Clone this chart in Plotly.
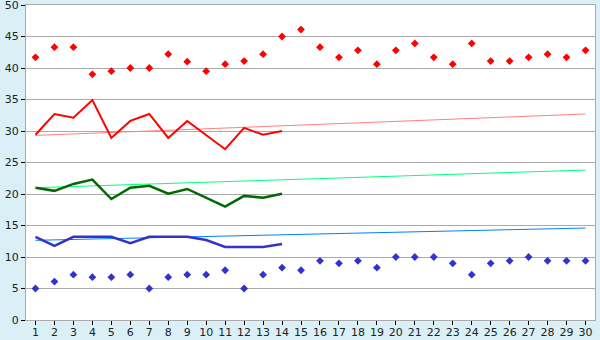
import plotly.graph_objects as go

days = list(range(1, 31))
line_days = list(range(1, 15))

red_points = [41.7, 43.3, 43.3, 39.0, 39.5, 40.0, 40.0, 42.2, 41.0, 39.5,
              40.6, 41.1, 42.2, 45.0, 46.1, 43.3, 41.7, 42.8, 40.6, 42.8,
              43.9, 41.7, 40.6, 43.9, 41.1, 41.1, 41.7, 42.2, 41.7, 42.8]
blue_points = [5.0, 6.1, 7.2, 6.8, 6.8, 7.2, 5.0, 6.8, 7.2, 7.2,
               7.9, 5.0, 7.2, 8.3, 7.9, 9.4, 9.0, 9.4, 8.3, 10.0,
               10.0, 10.0, 9.0, 7.2, 9.0, 9.4, 10.0, 9.4, 9.4, 9.4]
red_line = [29.4, 32.7, 32.1, 34.9, 28.9, 31.6, 32.7, 28.9, 31.6, 29.3, 27.1, 30.5, 29.4, 30.0]
green_line = [21.0, 20.5, 21.6, 22.3, 19.2, 21.0, 21.3, 20.05, 20.8, 19.4, 18.0, 19.7, 19.4, 20.05]
blue_line = [13.2, 11.75, 13.2, 13.2, 13.2, 12.2, 13.2, 13.2, 13.2, 12.7, 11.6, 11.6, 11.6, 12.05]

trend_days = [1, 30]
red_trend = [29.3, 32.7]
green_trend = [21.0, 23.8]
blue_trend = [12.65, 14.6]

fig = go.Figure()
fig.add_trace(go.Scatter(x=trend_days, y=red_trend, mode="lines",
                         line=dict(color="#ff8080", width=1)))
fig.add_trace(go.Scatter(x=trend_days, y=green_trend, mode="lines",
                         line=dict(color="#00ff80", width=1)))
fig.add_trace(go.Scatter(x=trend_days, y=blue_trend, mode="lines",
                         line=dict(color="#0080ff", width=1)))
fig.add_trace(go.Scatter(x=line_days, y=red_line, mode="lines",
                         line=dict(color="#ff0000", width=2)))
fig.add_trace(go.Scatter(x=line_days, y=green_line, mode="lines",
                         line=dict(color="#006a00", width=2.5)))
fig.add_trace(go.Scatter(x=line_days, y=blue_line, mode="lines",
                         line=dict(color="#3333cc", width=2.5)))
fig.add_trace(go.Scatter(x=days, y=red_points, mode="markers",
                         marker=dict(symbol="diamond", size=6, color="#ff0000")))
fig.add_trace(go.Scatter(x=days, y=blue_points, mode="markers",
                         marker=dict(symbol="diamond", size=6, color="#3333cc")))

axis_font = dict(family="DejaVu Sans", size=11, color="#222222")
fig.update_layout(
    width=600, height=340,
    margin=dict(l=26, r=5, t=5, b=20, autoexpand=False),
    paper_bgcolor="#daf0f6",
    plot_bgcolor="#ffffff",
    showlegend=False,
    xaxis=dict(range=[0.5, 30.5], tickmode="array", tickvals=days,
               ticktext=[str(d) for d in days], showgrid=False,
               ticks="outside", ticklen=4, tickcolor="#000000",
               showline=True, linecolor="#aaaaaa", mirror=True,
               tickfont=axis_font, zeroline=False, fixedrange=True,
               ticklabelstandoff=-2,
               ticklabeloverflow="allow", automargin=False),
    yaxis=dict(range=[0, 50], tickmode="array", tickvals=list(range(0, 51, 5)),
               showgrid=True, gridcolor="#aaaaaa", gridwidth=1,
               ticks="outside", ticklen=4, tickcolor="#000000",
               showline=True, linecolor="#aaaaaa", mirror=True,
               tickfont=axis_font, zeroline=False, fixedrange=True,
               ticklabeloverflow="allow", automargin=False),
)

fig.write_html("out.html")
